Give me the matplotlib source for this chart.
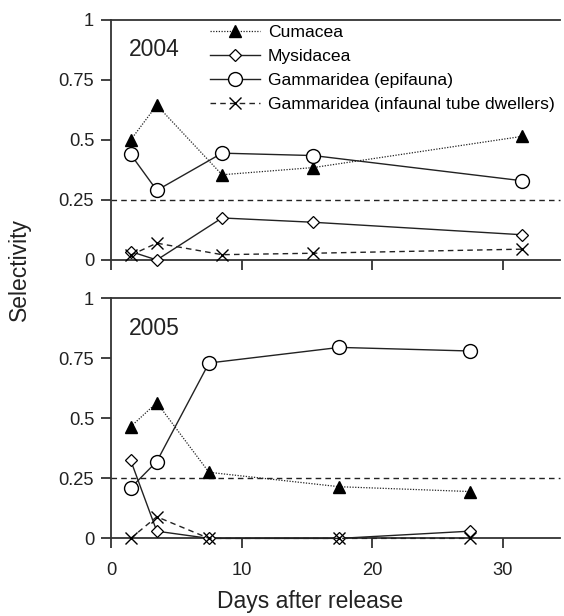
import matplotlib.pyplot as plt

plt.rcParams['font.family'] = ['Liberation Sans', 'DejaVu Sans']

# 2004 sampling days and selectivity
days_2004 = [1.5, 3.5, 8.5, 15.5, 31.5]
cuma_2004 = [0.50, 0.645, 0.355, 0.385, 0.515]
mysi_2004 = [0.035, 0.0, 0.175, 0.157, 0.105]
epi_2004 = [0.44, 0.29, 0.445, 0.435, 0.33]
infa_2004 = [0.02, 0.07, 0.022, 0.028, 0.045]

# 2005
days_2005 = [1.5, 3.5, 7.5, 17.5, 27.5]
cuma_2005 = [0.465, 0.565, 0.275, 0.215, 0.195]
mysi_2005 = [0.325, 0.03, 0.0, 0.0, 0.03]
epi_2005 = [0.21, 0.32, 0.73, 0.795, 0.78]
infa_2005 = [0.0, 0.09, 0.0, 0.0, 0.0]

labels = ['Cumacea', 'Mysidacea', 'Gammaridea (epifauna)',
          'Gammaridea (infaunal tube dwellers)']
yticks = [0, 0.25, 0.5, 0.75, 1]
ytick_labels = ['0', '0.25', '0.5', '0.75', '1']
xticks = [0, 10, 20, 30]

fig = plt.figure(figsize=(5.64, 6.16), dpi=100)
ax1 = fig.add_axes([0.197, 0.578, 0.796, 0.3896])
ax2 = fig.add_axes([0.197, 0.126, 0.796, 0.390])


def draw(ax, days, cuma, mysi, epi, infa, year, show_xlabels):
    ax.axhline(0.25, color='#222222', lw=1, ls=(0, (4, 3)), zorder=1)
    h1, = ax.plot(days, cuma, color='#222222', lw=0.9, ls=(0, (1, 1.2)),
                  marker='^', ms=8.5, mfc='black', mec='black', zorder=3)
    h2, = ax.plot(days, mysi, color='#222222', lw=1, ls='-',
                  marker='D', ms=6, mfc='white', mec='black', mew=0.9, zorder=3)
    h3, = ax.plot(days, epi, color='#222222', lw=1, ls='-',
                  marker='o', ms=10, mfc='white', mec='black', mew=1, zorder=3)
    h4, = ax.plot(days, infa, color='#222222', lw=1, ls=(0, (4, 3)),
                  marker='x', ms=8, mec='black', mew=1, zorder=3)
    ax.set_xlim(0, 34.4)
    ax.set_ylim(0, 1)
    ax.set_yticks(yticks)
    ax.set_yticklabels(ytick_labels)
    ax.set_xticks(xticks)
    if not show_xlabels:
        ax.set_xticklabels([])
    ax.spines['right'].set_visible(False)
    for s in ['left', 'top', 'bottom']:
        ax.spines[s].set_color('#333333')
        ax.spines[s].set_linewidth(1.3)
    ax.tick_params(direction='out', length=7.2, width=1.3, color='#333333',
                   labelsize=13.2, labelcolor='#222222')
    ax.tick_params(axis='y', pad=5)
    ax.tick_params(axis='x', pad=9.5)
    ax.text(0.04, 0.875, year, transform=ax.transAxes, fontsize=16.5,
            color='#222222', va='center', ha='left')
    for l in ax.get_lines():
        l.set_clip_on(False)
    return [h1, h2, h3, h4]


handles = draw(ax1, days_2004, cuma_2004, mysi_2004, epi_2004, infa_2004,
               '2004', False)
draw(ax2, days_2005, cuma_2005, mysi_2005, epi_2005, infa_2005, '2005', True)

ax1.legend(handles, labels, loc='upper left', bbox_to_anchor=(0.22, 0.978),
           frameon=False, fontsize=12.6, handlelength=2.85, handletextpad=0.46,
           labelspacing=0.5, borderaxespad=0, borderpad=0)

fig.text(0.035, 0.563, 'Selectivity', rotation=90, fontsize=16.5,
         color='#222222', ha='center', va='center')
fig.text(0.55, 0.023, 'Days after release', fontsize=16.5,
         color='#222222', ha='center', va='center')

fig.savefig('out.png', dpi=100)
